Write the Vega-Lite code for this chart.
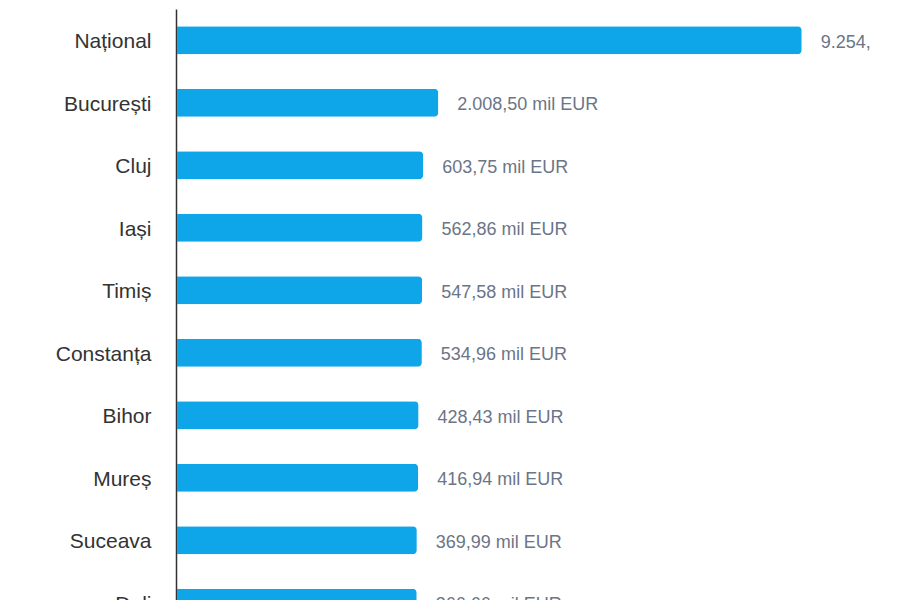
{
  "$schema": "https://vega.github.io/schema/vega-lite/v6.json",
  "autosize": "none",
  "padding": {"left": 176, "top": 9, "right": 0, "bottom": 0},
  "width": 695,
  "height": 625,
  "background": "white",
  "config": {
    "view": {"stroke": null},
    "font": "Liberation Sans",
    "locale": {
      "number": {"decimal": ",", "thousands": ".", "grouping": [3], "currency": ["", " mil EUR"]}
    },
    "axis": {"grid": false}
  },
  "data": {
    "values": [
      {"judet": "Național", "valoare": 9254.0},
      {"judet": "București", "valoare": 2008.5},
      {"judet": "Cluj", "valoare": 603.75},
      {"judet": "Iași", "valoare": 562.86},
      {"judet": "Timiș", "valoare": 547.58},
      {"judet": "Constanța", "valoare": 534.96},
      {"judet": "Bihor", "valoare": 428.43},
      {"judet": "Mureș", "valoare": 416.94},
      {"judet": "Suceava", "valoare": 369.99},
      {"judet": "Dolj", "valoare": 366.66}
    ]
  },
  "encoding": {
    "y": {
      "field": "judet",
      "type": "nominal",
      "sort": null,
      "scale": {"paddingInner": 0.55, "paddingOuter": 0.275},
      "axis": {
        "title": null,
        "ticks": false,
        "labelFontSize": 21,
        "labelColor": "#333333",
        "labelPadding": 25,
        "labelOffset": 2,
        "domainColor": "#333333",
        "domainWidth": 1.5
      }
    },
    "x": {
      "field": "valoare",
      "type": "quantitative",
      "scale": {
        "domain": [0, 366, 420, 540, 610, 2008.5, 9254],
        "range": [1, 240.7, 242.3, 246, 247.3, 262.3, 625.7],
        "nice": false
      },
      "axis": null
    }
  },
  "layer": [
    {
      "mark": {"type": "bar", "color": "#0ea5e9", "cornerRadiusEnd": 4}
    },
    {
      "mark": {
        "type": "text",
        "align": "left",
        "baseline": "middle",
        "dx": 19,
        "dy": 2.5,
        "fontSize": 18,
        "color": "#6b7587",
        "clip": true
      },
      "encoding": {
        "text": {"field": "valoare", "type": "quantitative", "format": "$,.2f"}
      }
    }
  ]
}
